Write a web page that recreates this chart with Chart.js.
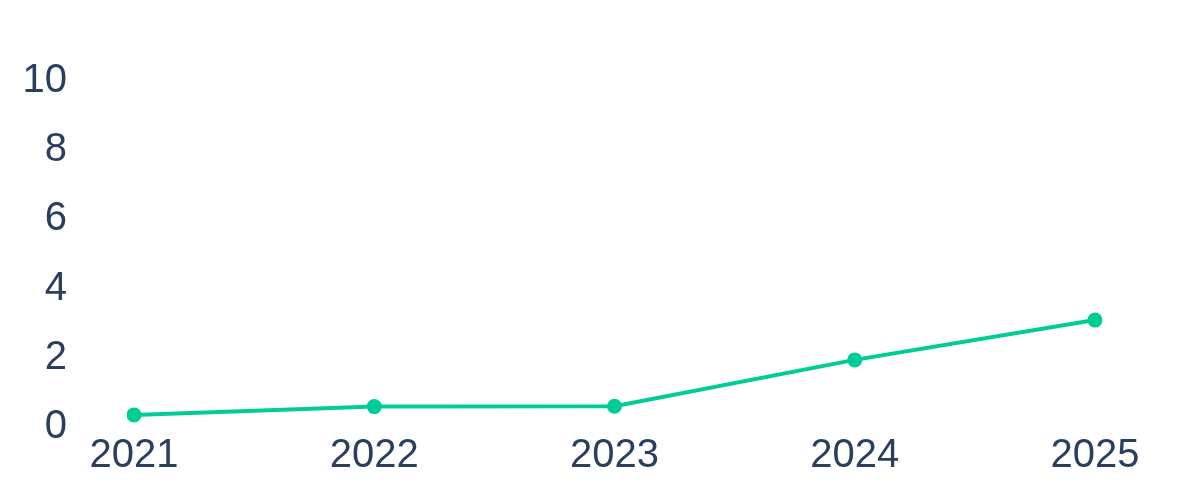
<!DOCTYPE html>
<html>
<head>
<meta charset="utf-8">
<script src="https://cdn.jsdelivr.net/npm/chart.js@4/dist/chart.umd.min.js"></script>
<style>
html,body{margin:0;padding:0;background:#fff;}
#wrap{width:1200px;height:500px;}
</style>
</head>
<body>
<div id="wrap"><canvas id="c" width="1200" height="500"></canvas></div>
<script>
const categories = ['2021', '2022', '2023', '2024', '2025'];
const values = [0.35, 0.59, 0.6, 1.94, 3.09];
const yTicks = [0, 2, 4, 6, 8, 10];

const textColor = '#2a3f5f';
const lineColor = '#00cc96';

new Chart(document.getElementById('c'), {
  type: 'line',
  data: {
    labels: categories,
    datasets: [{
      data: values,
      borderColor: lineColor,
      backgroundColor: lineColor,
      borderWidth: 4,
      pointRadius: 7.5,
      pointHoverRadius: 7.5,
      pointBorderWidth: 0,
      tension: 0,
      fill: false
    }]
  },
  options: {
    responsive: false,
    animation: false,
    layout: { padding: { top: 81, right: 105, bottom: 0, left: 0 } },
    plugins: { legend: { display: false }, tooltip: { enabled: false } },
    scales: {
      x: {
        offset: false,
        grid: { display: false, drawTicks: false },
        border: { display: false },
        ticks: { color: textColor, font: { family: 'Liberation Sans', size: 40 }, padding: 5, maxRotation: 0 },
        afterFit: (s) => { s.height = 73; s.paddingLeft = 0; s.paddingRight = 0; }
      },
      y: {
        min: 0,
        max: 10,
        afterBuildTicks: (s) => { s.ticks = yTicks.map(v => ({ value: v })); },
        grid: { display: false, drawTicks: false },
        border: { display: false },
        ticks: { color: textColor, font: { family: 'Liberation Sans', size: 40 }, padding: 67 },
        afterFit: (s) => { s.width = 134; s.paddingTop = 0; s.paddingBottom = 0; }
      }
    }
  }
});
</script>
</body>
</html>
